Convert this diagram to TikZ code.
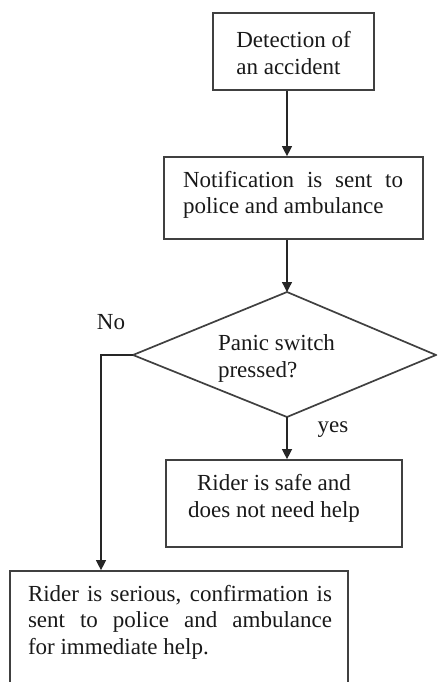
\documentclass[tikz,border=0pt]{standalone}
\usepackage{fontspec}
\setmainfont{Liberation Serif}
\usetikzlibrary{arrows.meta}
\begin{document}
\begin{tikzpicture}[x=1pt,y=-1pt,
  box/.style={draw=black!75,line width=1.7pt,inner sep=0pt},
  conn/.style={draw=black!85,line width=1.3pt},
  arr/.style={conn,-{Triangle[length=10pt,width=10pt]}},
  txt/.style={inner sep=0pt,font=\fontsize{23}{26.5}\selectfont,text=black!90},
  jtxt/.style={txt,align=justify,execute at begin node={\hyphenpenalty=10000\tolerance=10000}},
]
\useasboundingbox (0,0) rectangle (437,682);
\clip (0,0) rectangle (437,682);
% boxes
\node[box,minimum width=161pt,minimum height=77pt] (b1) at (293.5,51.5) {};
\node[txt,align=left] (t1) at (293.5,53) {Detection of\\an accident};
\node[box,minimum width=259pt,minimum height=82pt] (b2) at (293.5,198) {};
\node[jtxt,text width=220pt] (t2) at (293,195) {Notification is sent to\linebreak police and ambulance};
% diamond
\coordinate (dt) at (287,292);
\coordinate (db) at (287,417);
\coordinate (dl) at (133,355);
\coordinate (dr) at (436,355);
\draw[box] (dt) -- (dr) -- (db) -- (dl) -- cycle;
\node[txt,align=left] (t3) at (276.5,358.5) {Panic switch\\pressed?};
\node[box,minimum width=236pt,minimum height=87pt] (b4) at (284,503.5) {};
\node[txt,align=center] (t4) at (274,498.5) {Rider is safe and\\does not need help};
\node[box,minimum width=338pt,minimum height=129pt] (b3) at (179,635.5) {};
\node[jtxt,text width=304pt] (t5) at (180,622) {Rider is serious, confirmation is\linebreak sent to police and ambulance\linebreak for immediate help.};
% labels
\node[txt] (no) at (111,322) {No};
\node[txt] (yes) at (333,430) {yes};
% connectors
\draw[arr] (b1.south -| dt) -- (b2.north -| dt);
\draw[arr] (b2.south -| dt) -- (dt);
\draw[arr] (db) -- (b4.north -| db);
\coordinate (nb) at (101,355);
\draw[arr] (dl) -- (nb) -- (nb |- b3.north);
\end{tikzpicture}
\end{document}
